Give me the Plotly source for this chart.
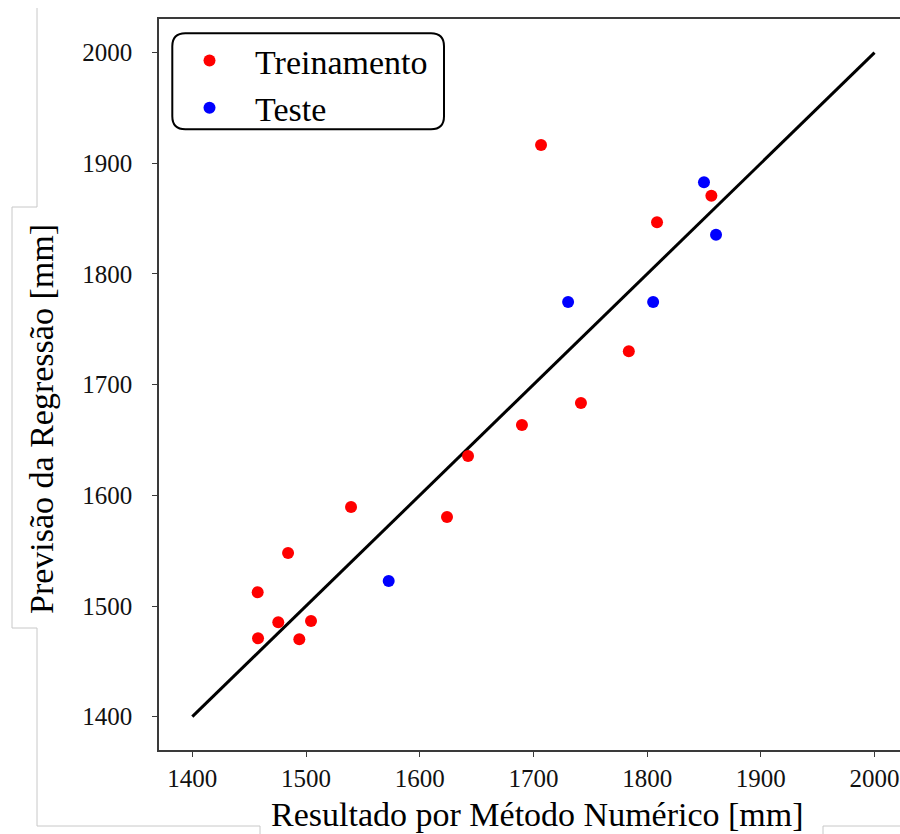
import plotly.graph_objects as go

# ---- data ----
train_x = [1706.7, 1856.5, 1808.7, 1783.9, 1741.8, 1689.9, 1642.5, 1624.0, 1539.6,
           1484.2, 1457.5, 1475.6, 1504.4, 1457.8, 1494.1]
train_y = [1916.6, 1870.8, 1846.7, 1730.1, 1683.5, 1663.6, 1635.6, 1580.5, 1589.5,
           1547.9, 1512.4, 1485.3, 1486.5, 1470.8, 1469.9]
test_x = [1572.7, 1850.0, 1860.6, 1730.5, 1805.3]
test_y = [1522.6, 1882.9, 1835.5, 1774.7, 1774.7]
ideal = [1400, 2000]
tick_vals = [1400, 1500, 1600, 1700, 1800, 1900, 2000]
tick_text = ["1400", "1500", "1600", "1700", "1800", "1900", "2000"]

W, H = 900, 834
ML, MT, MR, MB = 159, 19, 0, 84
PW, PH = W - ML - MR, H - MT - MB


def px(x):
    return (x - ML) / PW


def py(y):
    return (H - MB - y) / PH


FONT = "Liberation Serif, Times New Roman, serif"

fig = go.Figure()
fig.add_trace(go.Scatter(x=ideal, y=ideal, mode="lines",
                         line=dict(color="black", width=3), showlegend=False,
                         hoverinfo="skip"))
fig.add_trace(go.Scatter(x=train_x, y=train_y, mode="markers", name="Treinamento",
                         marker=dict(color="#ff0000", size=12)))
fig.add_trace(go.Scatter(x=test_x, y=test_y, mode="markers", name="Teste",
                         marker=dict(color="#0000ff", size=12)))

axis_common = dict(
    showgrid=False, zeroline=False, showline=True, linecolor="#3a3a3a", linewidth=1.5,
    ticks="outside", ticklen=5, tickwidth=1.2, tickcolor="#3a3a3a",
    tickvals=tick_vals, ticktext=tick_text,
    tickfont=dict(family=FONT, size=25, color="#111111"),
)

fig.update_layout(
    width=W, height=H,
    margin=dict(l=ML, r=MR, t=MT, b=MB),
    paper_bgcolor="white", plot_bgcolor="white",
    xaxis=dict(range=[1370.7, 2022.4], mirror=True, **axis_common),
    yaxis=dict(range=[1369.9, 2030.4], ticklabelstandoff=15, **axis_common),
    legend=dict(x=px(164), y=py(32), xanchor="left", yanchor="top",
                bgcolor="rgba(0,0,0,0)", borderwidth=0,
                font=dict(family=FONT, size=34, color="black"),
                itemwidth=81),
    font=dict(family=FONT),
)

# axis titles
fig.add_annotation(text="Resultado por Método Numérico [mm]", xref="paper", yref="paper",
                   x=px(537), y=py(814), xanchor="center", yanchor="middle",
                   showarrow=False, font=dict(family=FONT, size=34, color="black"))
fig.add_annotation(text="Previsão da Regressão [mm]", xref="paper", yref="paper",
                   x=px(41), y=py(419), xanchor="center", yanchor="middle", textangle=-90,
                   showarrow=False, font=dict(family=FONT, size=34, color="black"))

# rounded legend frame
x0, x1, y0, y1, r = 172.3, 444.0, 33.3, 129.3, 13
rx, ry = r / PW, r / PH
X0, X1, Y0, Y1 = px(x0), px(x1), py(y1), py(y0)
path = (f"M {X0+rx},{Y1} L {X1-rx},{Y1} Q {X1},{Y1} {X1},{Y1-ry} "
        f"L {X1},{Y0+ry} Q {X1},{Y0} {X1-rx},{Y0} L {X0+rx},{Y0} "
        f"Q {X0},{Y0} {X0},{Y0+ry} L {X0},{Y1-ry} Q {X0},{Y1} {X0+rx},{Y1} Z")
fig.add_shape(type="path", path=path, xref="paper", yref="paper",
              line=dict(color="black", width=2))

# faint outline of the surrounding page frame
frame_pts = [(37, 8), (37, 207), (12, 207), (12, 628), (37, 628), (37, 826),
             (260, 826), (260, 834)]
fpath = "M " + " L ".join(f"{px(a)},{py(b)}" for a, b in frame_pts)
fig.add_shape(type="path", path=fpath, xref="paper", yref="paper",
              line=dict(color="#c8c8c8", width=1))
rpath = f"M {px(823)},{py(834)} L {px(823)},{py(826)} L {px(900)},{py(826)}"
fig.add_shape(type="path", path=rpath, xref="paper", yref="paper",
              line=dict(color="#c8c8c8", width=1))

fig.write_html("out.html")
